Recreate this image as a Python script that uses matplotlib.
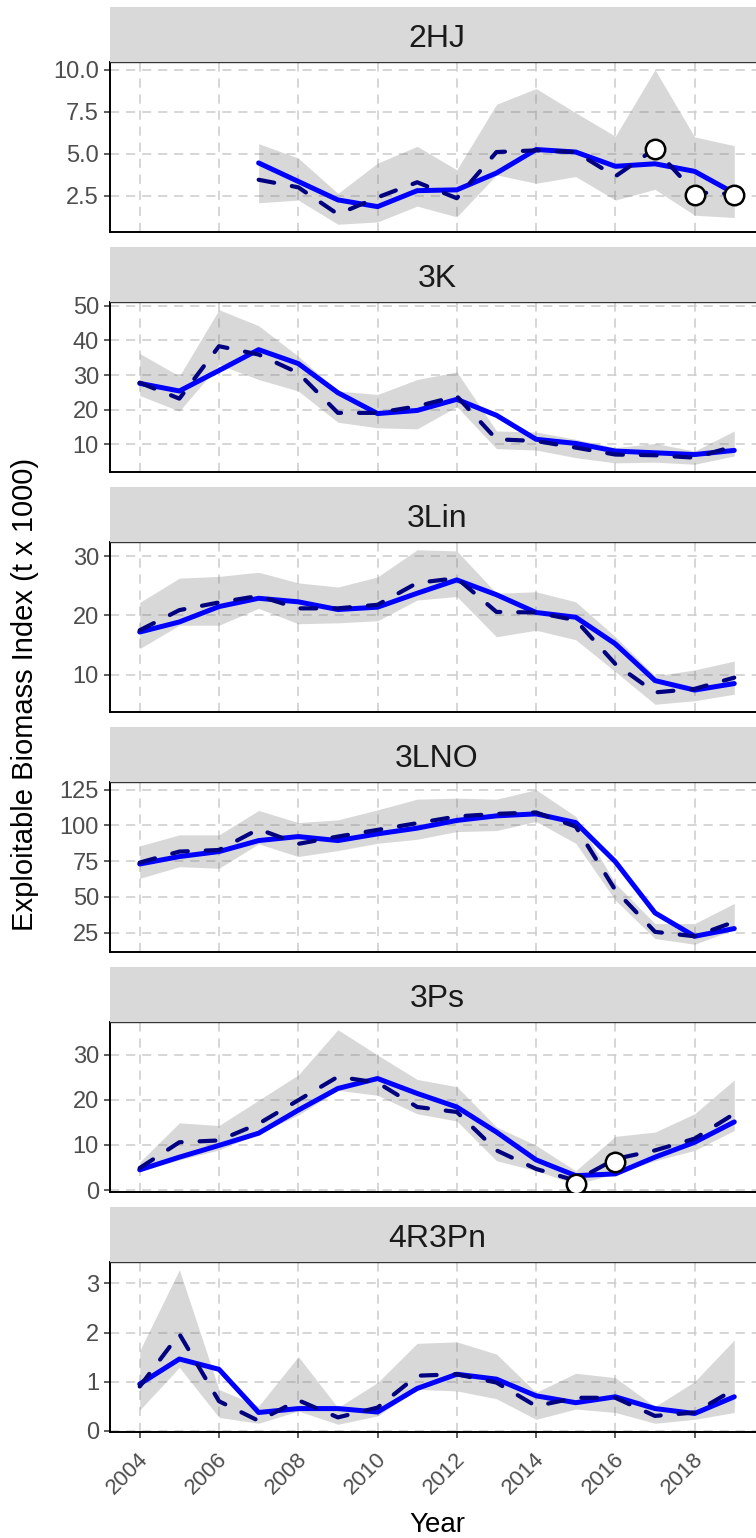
import numpy as np
import matplotlib
matplotlib.use("Agg")
import matplotlib.pyplot as plt
from matplotlib.transforms import ScaledTranslation

plt.rcParams['font.family'] = ['Liberation Sans', 'DejaVu Sans']

nan = np.nan
years = np.arange(2004, 2020)
year_ticks = np.arange(2004, 2020, 2)

stocks = ["2HJ", "3K", "3Lin", "3LNO", "3Ps", "4R3Pn"]

# 2HJ (series begin in 2007)
hj_fit = [nan, nan, nan, 4.45, 3.35, 2.25, 1.85, 2.8, 2.85, 3.85, 5.25, 5.1, 4.25, 4.4, 3.95, 2.65]
hj_est = [nan, nan, nan, 3.45, 3.0, 1.4, 2.4, 3.3, 2.35, 5.1, 5.2, 5.1, 3.65, 5.3, 2.7, 2.6]
hj_lo = [nan, nan, nan, 2.08, 2.24, 0.8, 0.94, 1.88, 1.24, 3.74, 3.24, 3.64, 2.24, 2.88, 1.34, 1.2]
hj_hi = [nan, nan, nan, 5.6, 4.74, 2.64, 4.44, 5.44, 4.04, 7.94, 8.88, 7.44, 6.04, 10.0, 6.0, 5.48]
hj_obs_years = [2017, 2018, 2019]
hj_obs = [5.3, 2.55, 2.55]
hj_yticks = [2.5, 5.0, 7.5, 10.0]

# 3K
k_fit = [27.6, 25.4, 31.3, 37.3, 33.3, 24.9, 18.9, 19.8, 23.0, 18.4, 11.5, 10.3, 8.1, 7.6, 7.1, 8.3]
k_est = [27.8, 23.2, 38.3, 35.9, 30.6, 19.1, 19.1, 21.0, 23.9, 11.5, 11.0, 9.1, 7.1, 6.9, 6.2, 9.5]
k_lo = [24.1, 19.6, 33.0, 28.7, 25.4, 16.4, 14.8, 14.5, 20.9, 8.8, 8.4, 6.2, 4.7, 4.9, 4.3, 6.7]
k_hi = [36.2, 29.7, 48.8, 44.2, 35.4, 25.4, 24.4, 28.7, 30.9, 13.9, 13.6, 11.5, 9.1, 10.3, 8.1, 13.9]
k_yticks = [10, 20, 30, 40, 50]

# 3Lin
lin_fit = [17.2, 18.9, 21.5, 22.9, 22.3, 21.0, 21.4, 23.75, 26.0, 23.5, 20.5, 19.7, 15.2, 9.0, 7.4, 8.5]
lin_est = [17.5, 20.9, 22.2, 23.3, 21.2, 21.2, 21.8, 25.5, 26.3, 20.6, 20.5, 19.2, 11.8, 7.0, 7.6, 9.5]
lin_lo = [14.4, 18.35, 18.35, 21.2, 18.6, 18.75, 19.1, 22.6, 23.2, 16.4, 17.5, 15.9, 10.5, 5.0, 5.6, 6.7]
lin_hi = [22.2, 26.3, 26.6, 27.3, 25.5, 24.8, 26.5, 31.1, 30.9, 23.75, 24.0, 22.3, 16.4, 9.8, 10.8, 12.3]
lin_yticks = [10, 20, 30]

# 3LNO
lno_fit = [73.0, 78.2, 81.7, 89.4, 92.2, 89.4, 94.1, 98.1, 103.5, 106.7, 108.1, 102.0, 74.6, 38.8, 22.4, 27.8]
lno_est = [74.0, 81.7, 82.8, 97.4, 87.1, 92.2, 96.9, 101.6, 106.3, 108.1, 109.1, 99.2, 54.7, 25.5, 22.4, 32.5]
lno_lo = [62.9, 71.1, 70.0, 87.1, 78.2, 82.4, 87.5, 90.3, 95.7, 96.4, 102.8, 87.5, 47.7, 20.8, 16.8, 27.1]
lno_hi = [85.7, 93.4, 93.4, 110.5, 102.0, 103.9, 110.9, 118.4, 119.1, 118.4, 125.0, 106.3, 59.4, 31.3, 31.3, 45.4]
lno_yticks = [25, 50, 75, 100, 125]

# 3Ps
ps_fit = [4.5, 7.3, 9.9, 12.6, 17.7, 22.5, 24.7, 21.4, 18.4, 12.85, 6.7, 3.2, 3.6, 7.3, 10.6, 15.1]
ps_est = [4.9, 10.6, 11.0, 14.7, 19.9, 25.1, 23.8, 18.4, 17.3, 8.8, 4.7, 2.1, 6.9, 8.8, 11.4, 16.9]
ps_lo = [4.2, 6.7, 8.9, 12.5, 16.6, 22.1, 21.0, 16.9, 15.3, 6.5, 4.3, 1.3, 3.6, 6.5, 8.8, 13.2]
ps_hi = [6.2, 14.9, 14.3, 19.9, 25.5, 35.5, 29.9, 24.5, 22.9, 14.0, 9.9, 4.3, 11.9, 12.85, 16.9, 24.4]
ps_obs_years = [2015, 2016]
ps_obs = [1.45, 6.3]
ps_yticks = [0, 10, 20, 30]

# 4R3Pn
r_fit = [0.95, 1.46, 1.25, 0.37, 0.45, 0.45, 0.38, 0.86, 1.15, 1.05, 0.71, 0.57, 0.69, 0.45, 0.35, 0.69]
r_est = [0.9, 1.97, 0.6, 0.2, 0.62, 0.27, 0.47, 1.12, 1.15, 0.98, 0.5, 0.67, 0.67, 0.3, 0.37, 0.84]
r_lo = [0.42, 1.29, 0.27, 0.15, 0.4, 0.13, 0.3, 0.84, 0.81, 0.65, 0.23, 0.44, 0.37, 0.15, 0.23, 0.37]
r_hi = [1.63, 3.28, 0.84, 0.5, 1.51, 0.47, 0.98, 1.78, 1.81, 1.56, 0.78, 1.17, 1.08, 0.49, 1.0, 1.85]
r_yticks = [0, 1, 2, 3]

panels = [
    ("2HJ", hj_fit, hj_est, hj_lo, hj_hi, hj_obs_years, hj_obs, hj_yticks, "{:.1f}"),
    ("3K", k_fit, k_est, k_lo, k_hi, [], [], k_yticks, "{:g}"),
    ("3Lin", lin_fit, lin_est, lin_lo, lin_hi, [], [], lin_yticks, "{:g}"),
    ("3LNO", lno_fit, lno_est, lno_lo, lno_hi, [], [], lno_yticks, "{:g}"),
    ("3Ps", ps_fit, ps_est, ps_lo, ps_hi, ps_obs_years, ps_obs, ps_yticks, "{:g}"),
    ("4R3Pn", r_fit, r_est, r_lo, r_hi, [], [], r_yticks, "{:g}"),
]

W, H = 756, 1538
fig = plt.figure(figsize=(W / 100, H / 100), dpi=100)
fig.patch.set_facecolor("white")

left_px, right_px = 110, 764
strip_h, panel_h, step = 55, 170, 240
x_lo, x_hi = 2003.25, 2019.75

for i, (name, fit, est, lo, hi, oyrs, obs, yt, fmt) in enumerate(panels):
    top = 62 + step * i
    ax = fig.add_axes([left_px / W, 1 - (top + panel_h) / H,
                       (right_px - left_px) / W, panel_h / H])
    sax = fig.add_axes([left_px / W, 1 - top / H,
                        (right_px - left_px) / W, strip_h / H])

    fit = np.array(fit, float)
    est = np.array(est, float)
    lo = np.array(lo, float)
    hi = np.array(hi, float)
    ok = ~np.isnan(lo)

    ax.fill_between(years[ok], lo[ok], hi[ok], color="grey", alpha=0.3,
                    lw=0, zorder=2)
    ax.plot(years, fit, color="#0000FF", lw=3.6, solid_capstyle="round",
            solid_joinstyle="round", zorder=3)
    ax.plot(years, est, color="#000080", lw=3.0, dashes=(3.8, 4.3),
            dash_capstyle="round", dash_joinstyle="round", zorder=4)
    if len(obs):
        ax.plot(oyrs, obs, linestyle="none", marker="o", ms=14,
                mfc="white", mec="black", mew=1.8, zorder=5)

    # free y scale with 5% padding on the data range
    vals = np.concatenate([lo[ok], hi[ok], fit[ok], est[ok], np.array(obs, float)])
    vmin, vmax = np.nanmin(vals), np.nanmax(vals)
    pad = 0.05 * (vmax - vmin)
    ax.set_ylim(vmin - pad, vmax + pad)
    ax.set_xlim(x_lo, x_hi)

    ax.set_yticks(yt)
    ax.set_yticklabels([fmt.format(v) for v in yt])
    ax.set_xticks(year_ticks)

    ax.set_axisbelow(True)
    ax.grid(True, color="#CCCCCC", lw=1.1, linestyle=(0, (6, 4.5)))

    ax.tick_params(axis="y", length=4, width=1.1, color="#333333",
                   labelsize=17, labelcolor="#4D4D4D", pad=4)
    if i < len(panels) - 1:
        ax.tick_params(axis="x", length=0, labelbottom=False)
    else:
        ax.tick_params(axis="x", length=4.5, width=1.1, color="#333333",
                       labelsize=16, labelcolor="#4D4D4D", pad=7.5)
        ax.set_xticklabels([str(y) for y in year_ticks], rotation=45,
                           ha="right", va="top", rotation_mode="anchor")
        shift = ScaledTranslation(-2 / 100, 0, fig.dpi_scale_trans)
        for lab in ax.get_xticklabels():
            lab.set_transform(lab.get_transform() + shift)

    for side in ("left", "bottom"):
        ax.spines[side].set_color("black")
        ax.spines[side].set_linewidth(1.4)
    ax.spines["top"].set_color("#333333")
    ax.spines["top"].set_linewidth(1.0)
    ax.spines["right"].set_visible(False)

    sax.set_facecolor("#D9D9D9")
    sax.set_xticks([])
    sax.set_yticks([])
    for s in sax.spines.values():
        s.set_visible(False)
    sax.text(0.5, 0.278, name, transform=sax.transAxes, ha="center",
             va="baseline", fontsize=23, color="#1A1A1A")

fig.text(437 / W, 1 - 1532 / H, "Year", ha="center", va="baseline",
         fontsize=20, color="black")
fig.text(25 / W, 1 - 694 / H, "Exploitable Biomass Index (t x 1000)",
         rotation=90, ha="center", va="center", fontsize=21, color="black")

fig.savefig("out.png", dpi=100, facecolor="white")
